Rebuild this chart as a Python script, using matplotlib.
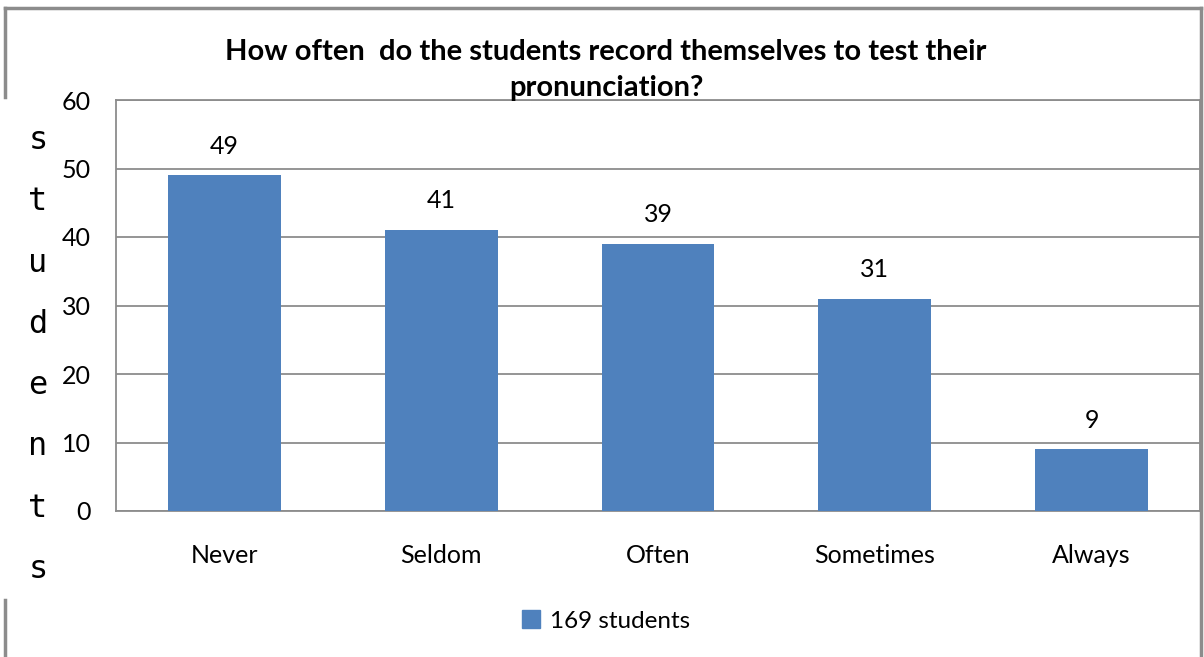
import matplotlib.pyplot as plt
from matplotlib.lines import Line2D

categories = ["Never", "Seldom", "Often", "Sometimes", "Always"]
values = [49, 41, 39, 31, 9]
series_name = "169 students"
title = "How often  do the students record themselves to test their\npronunciation?"
ylabel = "students"

plt.rcParams['font.family'] = ['Lato', 'DejaVu Sans']
blue = '#4F81BD'

fig = plt.figure(figsize=(12.04, 6.57), dpi=100)
ax = fig.add_axes([116/1204, 1-511/657, (1200-116)/1204, (511-100)/657])

x = range(len(categories))
bars = ax.bar(x, values, width=0.52, color=blue, zorder=3)
for i, v in enumerate(values):
    ax.text(i, v + 2.6, str(v), ha='center', va='bottom', fontsize=18)

ax.set_xlim(-0.5, len(categories) - 0.5)
ax.set_ylim(0, 60)
ax.set_yticks(range(0, 61, 10))
ax.set_xticks(list(x))
ax.set_xticklabels(categories, fontsize=18)
ax.tick_params(axis='y', labelsize=18, length=0, pad=18)
ax.tick_params(axis='x', length=0, pad=24)
ax.yaxis.grid(True, color='#8c8c8c', lw=1.3, zorder=0)
for s in ['top', 'right', 'bottom', 'left']:
    ax.spines[s].set_color('#8c8c8c')
    ax.spines[s].set_linewidth(1.3)

fig.text(606/1204, 1-70/657, title, ha='center', va='center', fontsize=21,
         fontweight='bold', linespacing=1.5)

# y label as stacked letters
fig.text(38/1204, 1-355/657, "\n".join(ylabel), ha='center', va='center',
         fontsize=23, family='DejaVu Sans Mono', linespacing=2.26)

# legend
fig.legend([plt.Rectangle((0, 0), 1, 1, color=blue)], [series_name],
           loc='center', bbox_to_anchor=(606/1204, 1-621/657), frameon=False,
           fontsize=17.5, handlelength=0.75, handleheight=0.75, handletextpad=0.4)

# outer frame pieces
frame = '#8c8c8c'
fig.add_artist(Line2D([5/1204, 1201/1204], [1-8/657, 1-8/657], color=frame, lw=2.5))
fig.add_artist(Line2D([5/1204, 5/1204], [1-8/657, 1-97/657], color=frame, lw=2.5))
fig.add_artist(Line2D([5/1204, 5/1204], [1-600/657, 0], color=frame, lw=2.5))
fig.add_artist(Line2D([1201/1204, 1201/1204], [1-8/657, 0], color=frame, lw=2.5))

fig.savefig("out.png", dpi=100)
